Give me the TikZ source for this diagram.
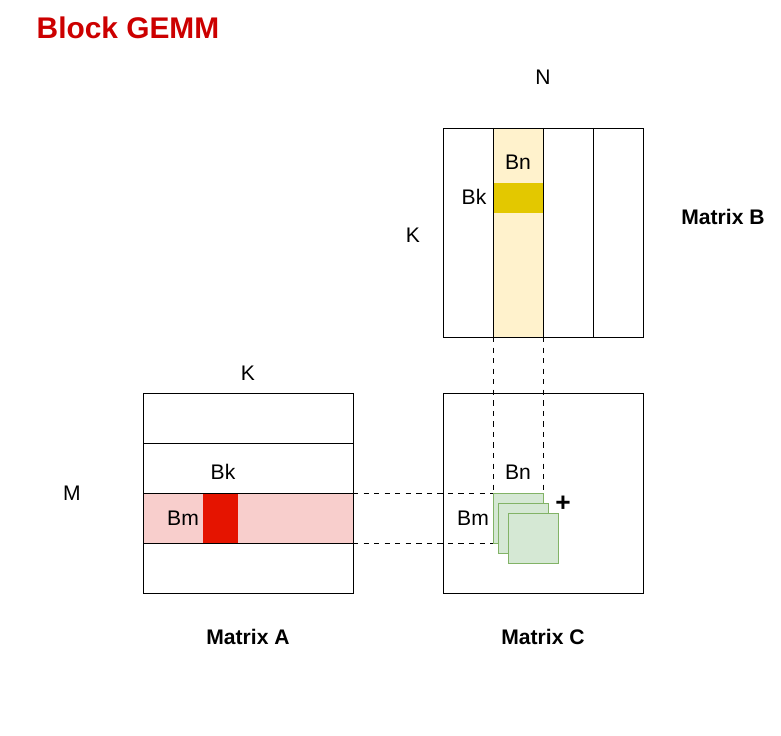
\documentclass[tikz,border=0pt]{standalone}
\usepackage{fontspec}
\setmainfont{Liberation Sans}
\begin{document}
\begin{tikzpicture}[x=0.02cm,y=-0.02cm,
  lbl/.style={font=\fontsize{12}{14}\selectfont},
  title/.style={font=\bfseries\fontsize{12}{14}\selectfont},
  tile/.style={draw=green!50!black!60,fill=green!15!white!90!gray,line width=0.5pt}]
  \useasboundingbox (0,0) rectangle (781,736);
  \definecolor{bred}{HTML}{CC0000}
  \definecolor{lyel}{HTML}{FFF2CC}
  \definecolor{dyel}{HTML}{E3C800}
  \definecolor{lpink}{HTML}{F8CECC}
  \definecolor{dred}{HTML}{E51400}
  \definecolor{lgrn}{HTML}{D5E8D4}
  \definecolor{dgrn}{HTML}{82B366}
  \tikzset{tile/.style={draw=dgrn,fill=lgrn}}

  \node [text=bred,font=\bfseries\fontsize{17}{20}\selectfont] (ttl) at (128,28) {Block GEMM};

  % Matrix B
  \fill [lyel] (493,128) rectangle (543,337);
  \fill [dyel] (493,183) rectangle (543,213);
  \draw (443,128) rectangle (643,337);
  \foreach \x in {493,543,593} \draw (\x,128) -- (\x,337);
  \node [lbl] (nB) at (543,77) {N};
  \node [lbl] (kB) at (413,235) {K};
  \node [lbl] (bn1) at (518,162) {Bn};
  \node [lbl] (bk1) at (474,197) {Bk};
  \node [title] (matB) at (723,217) {Matrix B};

  % Matrix A
  \fill [lpink] (143,493) rectangle (353,543);
  \fill [dred] (203,493) rectangle (238,543);
  \draw (143,393) rectangle (353,593);
  \foreach \y in {443,493,543} \draw (143,\y) -- (353,\y);
  \node [lbl] (kA) at (248,373) {K};
  \node [lbl] (mA) at (72,493) {M};
  \node [lbl] (bk2) at (223,472) {Bk};
  \node [lbl] (bm1) at (183,518) {Bm};
  \node [title] (matA) at (248,637) {Matrix A};

  % Matrix C
  \draw (443,393) rectangle (643,593);
  \draw [dashed] (493,337) -- (493,493) (543,337) -- (543,493)
                 (353,493) -- (493,493) (353,543) -- (493,543);
  \draw [tile] (493,493) rectangle (543,543);
  \draw [tile] (498,503) rectangle (548,553);
  \draw [tile] (508,513) rectangle (558,563);
  \node [font=\bfseries\fontsize{15}{16}\selectfont] (plus) at (563,504) {+};
  \node [lbl] (bn2) at (518,472) {Bn};
  \node [lbl] (bm2) at (473,518) {Bm};
  \node [title] (matC) at (543,637) {Matrix C};
\end{tikzpicture}
\end{document}
